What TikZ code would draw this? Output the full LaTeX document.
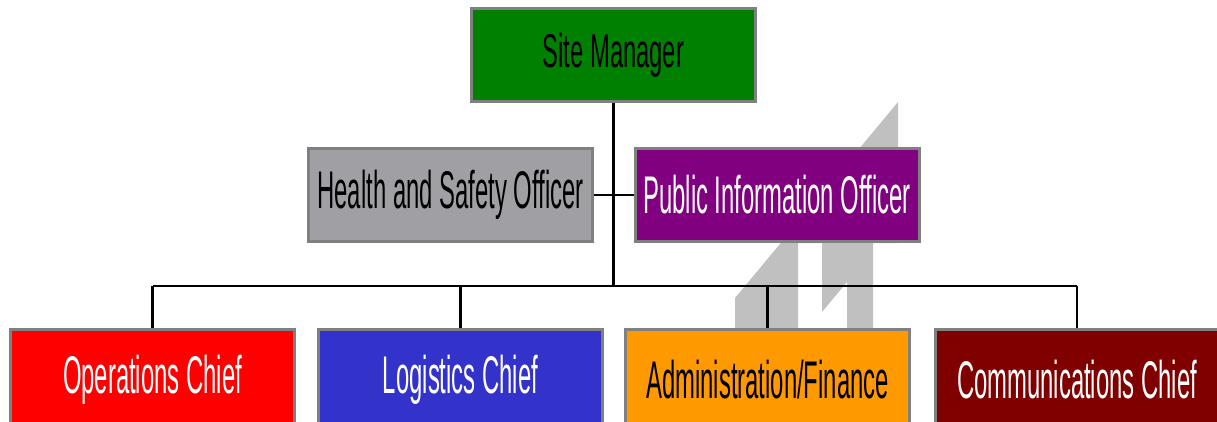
\documentclass[tikz,border=0pt]{standalone}
\usepackage{fontspec}
\setmainfont{Liberation Sans}
\newfontfamily\postfont[FakeStretch=0.45]{Liberation Sans}
\newfontfamily\headfont[FakeStretch=0.5]{Liberation Sans}

\definecolor{postline}{HTML}{808080}
\definecolor{sitegreen}{HTML}{008000}
\definecolor{officergray}{HTML}{A0A0A4}
\definecolor{infopurple}{HTML}{800080}
\definecolor{opsred}{HTML}{FF0000}
\definecolor{logblue}{HTML}{3333CC}
\definecolor{admorange}{HTML}{FF9900}
\definecolor{commaroon}{HTML}{800000}
\definecolor{logogray}{HTML}{C0C0C0}

\tikzset{
	post/.style={draw=postline, line width=3pt, minimum width=284pt, minimum height=93pt,
		inner sep=0pt, font=\postfont\fontsize{53}{60}\selectfont},
	chief/.style={post, minimum height=101pt},
	link/.style={line width=2.5pt},
}

\begin{document}
\begin{tikzpicture}[x=1pt, y=-1pt]
	\useasboundingbox (0,0) rectangle (1217,422);

	\fill[logogray] (735,328) -- (735,298) -- (898,102) -- (898,243) -- (798,243) -- (798,328) -- cycle;
	\fill[logogray] (822,243) -- (873,243) -- (873,328) -- (847,328) -- (847,282) -- (822,312) -- cycle;

	\node[post, fill=sitegreen, font=\headfont\fontsize{47.5}{54}\selectfont] (site) at (613.5,55) {Site Manager};
	\node[post, fill=officergray] (health) at (450.5,195) {Health and Safety Officer};
	\node[post, fill=infopurple, text=white] (pio) at (777,195) {Public Information Officer};

	\node[chief, fill=opsred, text=white] (ops) at (152.5,380) {Operations Chief};
	\node[chief, fill=logblue, text=white] (log) at (460.5,380) {Logistics Chief};
	\node[chief, fill=admorange] (adm) at (767.5,380) {Administration/Finance};
	\node[chief, fill=commaroon, text=white] (com) at (1077,380) {Communications Chief};

	\coordinate (bar) at (613.5,286);
	\draw[link] (site.south) -- (site.south |- bar);
	\draw[link] (health) -- (pio);
	\draw[link] (ops.north |- bar) -- (com.north |- bar);
	\foreach \p in {ops,log,adm,com}
		\draw[link] (\p.north |- bar) -- (\p.north);
\end{tikzpicture}
\end{document}
